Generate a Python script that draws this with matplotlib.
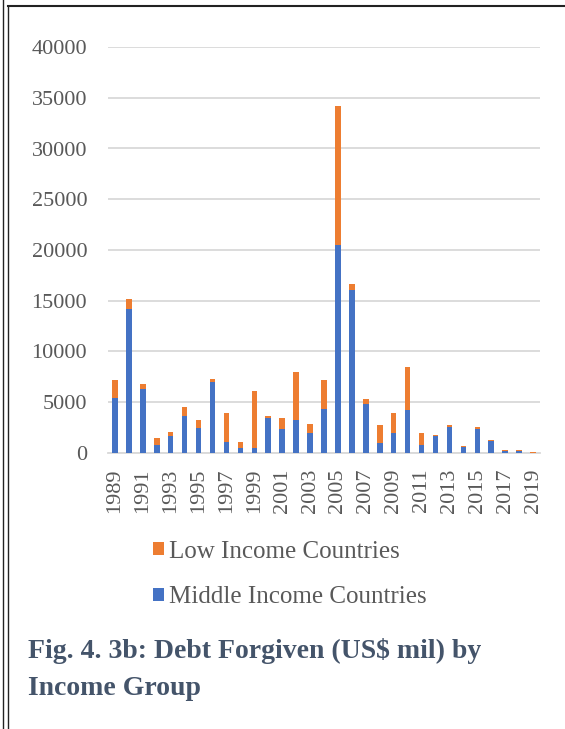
import matplotlib
matplotlib.use("Agg")
import matplotlib.pyplot as plt
from matplotlib.lines import Line2D
from matplotlib.patches import Patch
import numpy as np

years = list(range(1989, 2020))
middle_income = [5430, 14180, 6330, 770, 1670, 3660, 2500, 7000, 1070, 470,
                 470, 3460, 2400, 3250, 2000, 4290, 20500, 16060, 4800, 950,
                 1960, 4230, 740, 1660, 2570, 610, 2400, 1180, 200, 170, 20]
low_income = [1720, 990, 430, 730, 400, 900, 760, 260, 2890, 630,
              5620, 170, 1030, 4770, 840, 2880, 13700, 590, 540, 1850,
              2030, 4250, 1190, 100, 230, 100, 170, 70, 100, 100, 30]
tick_labels = [str(y) if (y - 1989) % 2 == 0 else "" for y in years]
y_ticks = [0, 5000, 10000, 15000, 20000, 25000, 30000, 35000, 40000]

BLUE = "#4472C4"
ORANGE = "#ED7D31"
GRAY_TXT = "#595959"
TITLE_CLR = "#44546A"
SERIF = ["Liberation Serif", "DejaVu Serif"]

W, H = 565, 729
fig = plt.figure(figsize=(W / 100, H / 100), dpi=100)
fig.patch.set_facecolor("white")

ax = fig.add_axes([108 / W, 1 - 453 / H, 432 / W, 406 / H])
x = np.arange(len(years))
ax.bar(x, middle_income, width=0.4, color=BLUE, zorder=3)
ax.bar(x, low_income, width=0.4, bottom=middle_income, color=ORANGE, zorder=3)

ax.set_xlim(-0.5, len(years) - 0.5)
ax.set_ylim(0, 40000)
ax.set_yticks(y_ticks)
ax.set_yticklabels([str(v) for v in y_ticks], family=SERIF, fontsize=16, color=GRAY_TXT)
ax.set_xticks(x)
ax.set_xticklabels(tick_labels, rotation=90, family=SERIF, fontsize=16, color=GRAY_TXT)
ax.tick_params(axis="both", length=0)
ax.tick_params(axis="y", pad=15)
ax.tick_params(axis="x", pad=11)
ax.grid(axis="y", color="#D9D9D9", linewidth=1.3, zorder=0)
for s in ["top", "right", "left"]:
    ax.spines[s].set_visible(False)
ax.spines["bottom"].set_color("#D9D9D9")
ax.spines["bottom"].set_linewidth(1.3)
ax.set_facecolor("white")

handles = [Patch(facecolor=ORANGE, edgecolor="none"), Patch(facecolor=BLUE, edgecolor="none")]
fig.legend(handles, ["Low Income Countries", "Middle Income Countries"],
           loc="upper left", bbox_to_anchor=(140 / W, 1 - 528 / H),
           frameon=False, prop={"family": SERIF, "size": 18},
           labelcolor=GRAY_TXT, handlelength=0.45, handleheight=0.45,
           handletextpad=0.2, labelspacing=0.95, borderpad=0)

# two-line caption below the chart
fig.text(28 / W, 1 - 658 / H, "Fig. 4. 3b: Debt Forgiven (US$ mil) by",
         family=SERIF, fontsize=20, fontweight="bold", color=TITLE_CLR,
         ha="left", va="baseline")
fig.text(28 / W, 1 - 695 / H, "Income Group",
         family=SERIF, fontsize=20, fontweight="bold", color=TITLE_CLR,
         ha="left", va="baseline")

# page frame lines
def px_line(x0, y0, x1, y1, lw=1.0):
    fig.add_artist(Line2D([x0 / W, x1 / W], [1 - y0 / H, 1 - y1 / H],
                          transform=fig.transFigure, color="#222222", linewidth=lw))

px_line(3, 0, 3, H)
px_line(8, 6, 8, H)
px_line(8, 6, W, 6, lw=1.5)

fig.savefig("out.png", dpi=100)
